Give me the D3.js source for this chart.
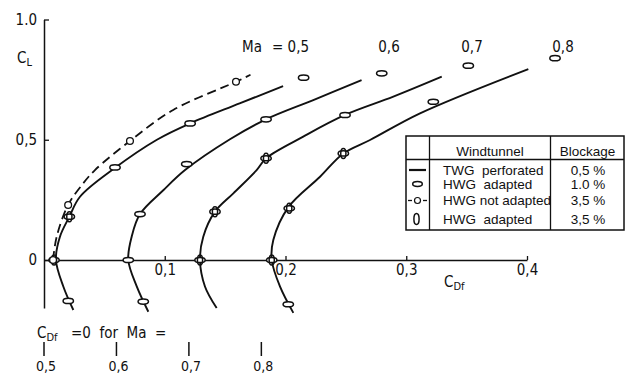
<!DOCTYPE html>
<html><head><meta charset="utf-8">
<script src="https://cdn.jsdelivr.net/npm/d3@7"></script>
<style>
html,body{margin:0;padding:0;background:#fff;}
svg{display:block;background:#fff;}
text{font-family:"Liberation Sans Narrow","DejaVu Sans Condensed","Liberation Sans",sans-serif;fill:#111;}
.lg text{font-family:"Liberation Sans","DejaVu Sans",sans-serif;}
</style></head><body>
<svg id="c" width="627" height="377"></svg>
<script>
// ---- data ----
const machLabels = ["0,5", "0,6", "0,7", "0,8"];
const offsets = [0, 0.06, 0.12, 0.18];            // C_Df origin shift per Mach number
const xTicks = [0.1, 0.2, 0.3, 0.4];
const xTickLabels = ["0,1", "0,2", "0,3", "0,4"];
const yTicks = [0, 0.5, 1.0];
const yTickLabels = ["0", "0,5", "1.0"];

// TWG perforated, blockage 0.5 %  : [CL, CDf]
const twg05 = [[-0.208,0.0243],[-0.11,0.016],[0,0.0099],[0.097,0.0132],[0.18,0.021],[0.263,0.0298],[0.38,0.058],[0.50,0.0935],[0.568,0.121],[0.651,0.162],[0.723,0.198]];
const twg06 = [[-0.215,0.0264],[-0.11,0.0168],[0,0.0098],[0.097,0.0126],[0.191,0.0195],[0.291,0.039],[0.374,0.0568],[0.502,0.094],[0.585,0.1239],[0.665,0.163],[0.748,0.203]];
const twg07 = [[-0.20,0.023],[-0.11,0.0133],[0,0.0092],[0.097,0.0119],[0.201,0.0216],[0.277,0.0368],[0.374,0.0561],[0.423,0.0639],[0.513,0.0947],[0.603,0.1293],[0.679,0.1693],[0.762,0.2094]];
const twg08 = [[-0.22,0.0265],[-0.11,0.0154],[0,0.0086],[0.083,0.0099],[0.219,0.0223],[0.346,0.0486],[0.443,0.0679],[0.499,0.09],[0.61,0.1314],[0.794,0.2211]];

// HWG not adapted, blockage 3.5 % (Ma 0.5)
const hwgNA05 = [[0,0.0075],[0.097,0.0105],[0.229,0.020],[0.319,0.0325],[0.374,0.0422],[0.495,0.0712],[0.624,0.107],[0.741,0.159],[0.77,0.171]];
const hwgNA05Pts = [[0,0.0075],[0.229,0.020],[0.495,0.0712],[0.741,0.159]];

// HWG adapted, blockage 1.0 %
const hwg10_05 = [[-0.17,0.0201],[0,0.0083],[0.18,0.021],[0.385,0.0588],[0.568,0.121],[0.758,0.215]];
const hwg10_06 = [[-0.173,0.0222],[0,0.0098],[0.191,0.0195],[0.399,0.0582],[0.585,0.1239],[0.776,0.2197]];
const hwg10_07 = [[0,0.0092],[0.201,0.0216],[0.423,0.0639],[0.603,0.1293],[0.808,0.2314]];
const hwg10_08 = [[-0.184,0.0223],[0,0.0086],[0.215,0.0231],[0.443,0.0679],[0.658,0.1424],[0.839,0.2432]];

// HWG adapted, blockage 3.5 %
const hwg35_05 = [[0,0.0083],[0.18,0.021]];
const hwg35_06 = [];
const hwg35_07 = [[0,0.0092],[0.201,0.0216],[0.423,0.0639]];
const hwg35_08 = [[0,0.0086],[0.215,0.0231],[0.443,0.0679]];

const legendNames = ["TWG  perforated", "HWG  adapted", "HWG not adapted", "HWG  adapted"];
const legendBlockage = ["0,5 %", "1.0 %", "3,5 %", "3,5 %"];

// ---- chart ----
const svg = d3.select("#c");
const x = d3.scaleLinear().domain([0, 0.4]).range([44, 527]);
const y = d3.scaleLinear().domain([-0.2, 1.0]).range([308.1, 19.5]);
const ink = "#111";

const twg = [twg05, twg06, twg07, twg08];
const h10 = [hwg10_05, hwg10_06, hwg10_07, hwg10_08];
const h35 = [hwg35_05, hwg35_06, hwg35_07, hwg35_08];

const lineFor = off => d3.line().x(d => x(d[1] + off)).y(d => y(d[0])).curve(d3.curveCatmullRom.alpha(0.5));

// axes
const gx = svg.append("g").attr("transform", `translate(0,${y(0)})`)
  .call(d3.axisBottom(x).tickValues(xTicks).tickFormat((d, i) => xTickLabels[i]).tickSize(-4).tickSizeOuter(0).tickPadding(4));
const gy = svg.append("g").attr("transform", `translate(${x(0)},0)`)
  .call(d3.axisLeft(y).tickValues(yTicks).tickFormat((d, i) => yTickLabels[i]).tickSize(-5).tickSizeOuter(0).tickPadding(7));
[gx, gy].forEach(g => {
  g.attr("font-size", 15);
  g.select(".domain").attr("stroke", ink).attr("stroke-width", 1.5);
  g.selectAll(".tick line").attr("stroke", ink).attr("stroke-width", 1.3);
  g.selectAll(".tick text").attr("fill", ink);
});

// curves
twg.forEach((pts, i) => {
  svg.append("path").datum(pts).attr("d", lineFor(offsets[i])).attr("fill", "none")
    .attr("stroke", ink).attr("stroke-width", 1.9);
});
svg.append("path").datum(hwgNA05).attr("d", lineFor(offsets[0])).attr("fill", "none")
  .attr("stroke", ink).attr("stroke-width", 1.8).attr("stroke-dasharray", "9,5");

// markers
h10.forEach((pts, i) => {
  svg.selectAll(null).data(pts).join("ellipse")
    .attr("cx", d => x(d[1] + offsets[i])).attr("cy", d => y(d[0]))
    .attr("rx", 5.2).attr("ry", 2.6).attr("fill", "#fff").attr("stroke", ink).attr("stroke-width", 1.5);
});
h35.forEach((pts, i) => {
  svg.selectAll(null).data(pts).join("ellipse")
    .attr("cx", d => x(d[1] + offsets[i])).attr("cy", d => y(d[0]))
    .attr("rx", 2.6).attr("ry", 5).attr("fill", "none").attr("stroke", ink).attr("stroke-width", 1.5);
});
svg.selectAll(null).data(hwgNA05Pts).join("circle")
  .attr("cx", d => x(d[1] + offsets[0])).attr("cy", d => y(d[0]))
  .attr("r", 3.4).attr("fill", "#fff").attr("stroke", ink).attr("stroke-width", 1.3);

// axis titles
const cl = svg.append("text").attr("x", 17).attr("y", 63).attr("font-size", 15);
cl.append("tspan").text("C");
cl.append("tspan").attr("font-size", 11).attr("dy", 3).text("L");
const cd = svg.append("text").attr("x", 444).attr("y", 287).attr("font-size", 15);
cd.append("tspan").text("C");
cd.append("tspan").attr("font-size", 11).attr("dy", 3).text("Df");

// Mach labels
const machX = [null, 389, 472, 563];
svg.append("text").attr("x", 242).attr("y", 52).attr("font-size", 15).text("Ma");
svg.append("text").attr("x", 272).attr("y", 52).attr("font-size", 15).text("= " + machLabels[0]);
machLabels.forEach((m, i) => {
  if (i === 0) return;
  svg.append("text").attr("x", machX[i]).attr("y", 52).attr("font-size", 15).attr("text-anchor", "middle").text(m);
});

// C_Df = 0 for Ma = ...
const note = svg.append("text").attr("x", 37).attr("y", 338).attr("font-size", 15);
note.append("tspan").text("C");
note.append("tspan").attr("font-size", 11).attr("dy", 3).text("Df");
svg.append("text").attr("x", 71).attr("y", 338).attr("font-size", 15).attr("style", "white-space:pre").text("=0  for  Ma  =");
offsets.forEach((o, i) => {
  svg.append("line").attr("x1", x(o)).attr("x2", x(o)).attr("y1", 342).attr("y2", 356)
    .attr("stroke", ink).attr("stroke-width", 1.5);
  svg.append("text").attr("x", x(o) + 2).attr("y", 371).attr("font-size", 14).attr("text-anchor", "middle").text(machLabels[i]);
});

// legend table
const lg = svg.append("g").attr("class", "lg");
const L = {x0: 406, x1: 429.5, x2: 550.5, x3: 624, y0: 136, y1: 159.5, y2: 230};
lg.append("rect").attr("x", L.x0).attr("y", L.y0).attr("width", L.x3 - L.x0).attr("height", L.y2 - L.y0)
  .attr("fill", "#fff").attr("stroke", ink).attr("stroke-width", 1.5);
lg.append("line").attr("x1", L.x0).attr("x2", L.x3).attr("y1", L.y1).attr("y2", L.y1).attr("stroke", ink).attr("stroke-width", 1.3);
[L.x1, L.x2].forEach(xx => lg.append("line").attr("x1", xx).attr("x2", xx).attr("y1", L.y0).attr("y2", L.y2).attr("stroke", ink).attr("stroke-width", 1.3));
lg.append("text").attr("x", 490).attr("y", 155.5).attr("font-size", 13.5).attr("text-anchor", "middle").text("Windtunnel");
lg.append("text").attr("x", 587.5).attr("y", 155.5).attr("font-size", 13.5).attr("text-anchor", "middle").text("Blockage");
const rowY = [170, 184, 200.5, 219];
legendNames.forEach((n, i) => {
  lg.append("text").attr("x", 443).attr("y", rowY[i] + 4.5).attr("font-size", 13.5).attr("style", "white-space:pre").text(n);
  lg.append("text").attr("x", 588).attr("y", rowY[i] + 4.5).attr("font-size", 13.5).attr("text-anchor", "middle").text(legendBlockage[i]);
});
const sx = 417.5;
lg.append("line").attr("x1", 409).attr("x2", 426).attr("y1", rowY[0]).attr("y2", rowY[0]).attr("stroke", ink).attr("stroke-width", 2.2);
lg.append("ellipse").attr("cx", sx).attr("cy", rowY[1]).attr("rx", 4.8).attr("ry", 2.4).attr("fill", "#fff").attr("stroke", ink).attr("stroke-width", 1.5);
lg.append("line").attr("x1", 408).attr("x2", 412).attr("y1", rowY[2]).attr("y2", rowY[2]).attr("stroke", ink).attr("stroke-width", 1.3);
lg.append("line").attr("x1", 423).attr("x2", 427).attr("y1", rowY[2]).attr("y2", rowY[2]).attr("stroke", ink).attr("stroke-width", 1.3);
lg.append("circle").attr("cx", sx).attr("cy", rowY[2]).attr("r", 3).attr("fill", "#fff").attr("stroke", ink).attr("stroke-width", 1.2);
lg.append("ellipse").attr("cx", sx - 1).attr("cy", rowY[3]).attr("rx", 2.6).attr("ry", 5.5).attr("fill", "#fff").attr("stroke", ink).attr("stroke-width", 1.5);
</script>
</body></html>
